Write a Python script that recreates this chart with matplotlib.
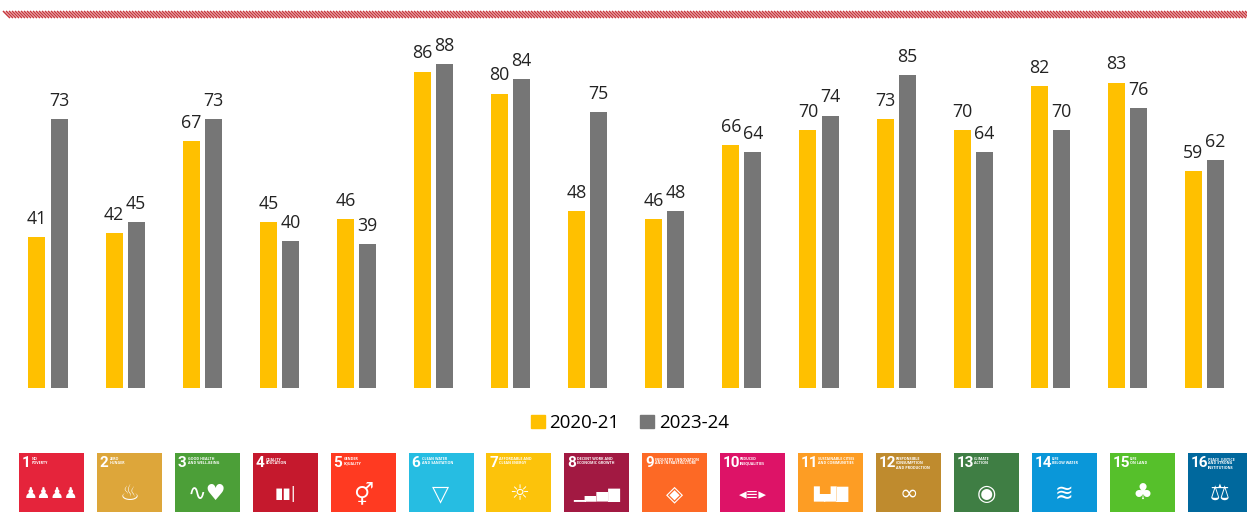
import numpy as np
import matplotlib
matplotlib.use("Agg")
from matplotlib import pyplot as plt
from matplotlib.patches import Rectangle, Patch
from matplotlib.collections import LineCollection

# data
goals = list(range(1, 17))
v_2021 = [41, 42, 67, 45, 46, 86, 80, 48, 46, 66, 70, 73, 70, 82, 83, 59]
v_2324 = [73, 45, 73, 40, 39, 88, 84, 75, 48, 64, 74, 85, 64, 70, 76, 62]
series_names = ["2020-21", "2023-24"]
goal_titles = ["NO\nPOVERTY", "ZERO\nHUNGER", "GOOD HEALTH\nAND WELL-BEING", "QUALITY\nEDUCATION",
               "GENDER\nEQUALITY", "CLEAN WATER\nAND SANITATION", "AFFORDABLE AND\nCLEAN ENERGY",
               "DECENT WORK AND\nECONOMIC GROWTH", "INDUSTRY, INNOVATION\nAND INFRASTRUCTURE",
               "REDUCED\nINEQUALITIES", "SUSTAINABLE CITIES\nAND COMMUNITIES",
               "RESPONSIBLE\nCONSUMPTION\nAND PRODUCTION", "CLIMATE\nACTION", "LIFE\nBELOW WATER",
               "LIFE\nON LAND", "PEACE, JUSTICE\nAND STRONG\nINSTITUTIONS"]

goal_colors = ["#E5243B", "#DDA63A", "#4C9F38", "#C5192D", "#FF3A21", "#26BDE2", "#FCC30B", "#A21942",
               "#FD6925", "#DD1367", "#FD9D24", "#BF8B2E", "#3F7E44", "#0A97D9", "#56C02B", "#00689D"]
goal_glyphs = ["♟♟♟♟", "♨", "∿♥", "▮▮|", "⚥", "▽", "☼", "▁▃▅▇", "◈", "◂≡▸", "▙▟█", "∞", "◉", "≋", "♣", "⚖"]

YELLOW = "#FFC000"
GRAY = "#767676"
W, H = 1247, 520

plt.rcParams['font.family'] = ['Open Sans', 'DejaVu Sans']

fig = plt.figure(figsize=(W / 100, H / 100), dpi=100)

# bar axes (pixel geometry: group 1 centre at x=48, spacing 77.1, baseline y=388)
ax = fig.add_axes([0, (H - 388) / H, 1, 368 / H])
x = np.arange(len(goals))
bw = 0.22
off = 0.143
b1 = ax.bar(x - off, v_2021, bw, color=YELLOW)
b2 = ax.bar(x + off, v_2324, bw, color=GRAY)
for bars, vals in ((b1, v_2021), (b2, v_2324)):
    for r, v in zip(bars, vals):
        ax.annotate(str(v), (r.get_x() + r.get_width() / 2, v), xytext=(0, 9.5),
                    textcoords="offset points", ha="center", va="baseline",
                    fontsize=12.8, color="#222222")
ax.set_xlim(-48 / 77.1, (W - 48) / 77.1)
ax.set_ylim(0, 100)
ax.axis("off")

# legend
handles = [Patch(color=YELLOW), Patch(color=GRAY)]
fig.legend(handles, series_names, loc="center", bbox_to_anchor=(630 / W, 1 - 423 / H), ncol=2,
           frameon=False, fontsize=13.5, handlelength=0.75, handleheight=0.75, handletextpad=0.25,
           columnspacing=1.1)

# overlay in pixel coordinates: hatched line and SDG icons
ov = fig.add_axes([0, 0, 1, 1])
ov.set_xlim(0, W)
ov.set_ylim(H, 0)
ov.axis("off")

segs = [[(x0, 11), (x0 + 7, 18)] for x0 in np.arange(3, W + 3, 3.0)]
lc = LineCollection(segs, colors="#C8373D", linewidths=1.1)
clip = Rectangle((10, 11), W - 10, 7, transform=ov.transData, facecolor="none", edgecolor="none")
ov.add_patch(clip)
lc.set_clip_path(clip)
ov.add_collection(lc)

for i, (c, t, g) in enumerate(zip(goal_colors, goal_titles, goal_glyphs)):
    x0 = 19 + 77.9 * i
    ov.add_patch(Rectangle((x0, 453), 65, 59, facecolor=c, edgecolor="none"))
    n = str(goals[i])
    ov.text(x0 + 3, 456, n, color="white", fontsize=11, fontweight="bold",
            ha="left", va="top", family=["Roboto", "DejaVu Sans"])
    ov.text(x0 + 6 + 7 * len(n), 457, t, color="white", fontsize=2.6, fontweight="bold",
            ha="left", va="top", linespacing=1.1)
    ov.text(x0 + 32.5, 494, g, color="white", fontsize=16 if len(g) < 3 else 11,
            ha="center", va="center", family=["DejaVu Sans"])

fig.savefig("out.png", dpi=100, facecolor="white")
